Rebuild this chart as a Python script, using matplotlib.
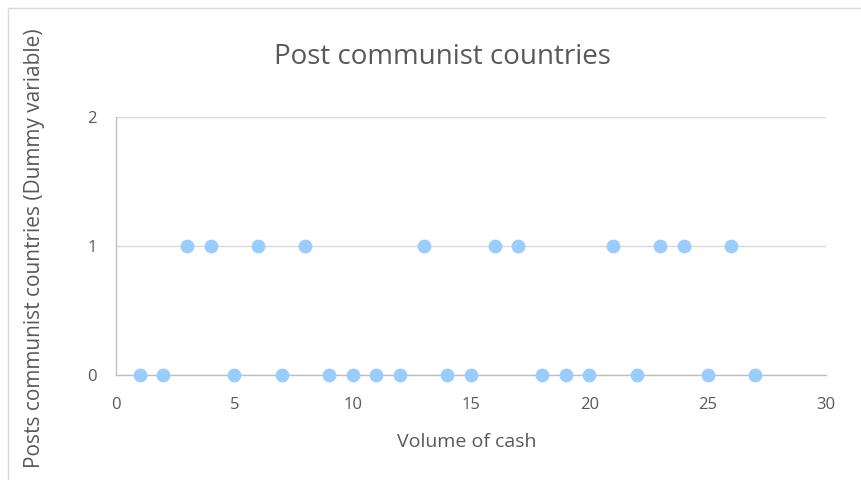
import matplotlib.pyplot as plt
from matplotlib.patches import Rectangle

# volume of cash vs. post-communist dummy
volume = [1, 2, 3, 4, 5, 6, 7, 8, 9, 10, 11, 12, 13, 14, 15, 16, 17, 18,
          19, 20, 21, 22, 23, 24, 25, 26, 27]
post_communist = [0, 0, 1, 1, 0, 1, 0, 1, 0, 0, 0, 0, 1, 0, 0, 1, 1, 0,
                  0, 0, 1, 0, 1, 1, 0, 1, 0]

x_ticks = [0, 5, 10, 15, 20, 25, 30]
y_ticks = [0, 1, 2]

text_col = '#595959'
plt.rcParams['font.family'] = ['Open Sans', 'DejaVu Sans']

W, H = 862, 480
fig = plt.figure(figsize=(W / 100, H / 100), dpi=100)
ax = fig.add_axes([116 / W, 1 - 375 / H, 710 / W, 258 / H])

# chart area frame (runs off the right and bottom edges)
fig.patches.append(Rectangle((8 / W, -0.1), 1.0, 1 - 8 / H + 0.1,
                             transform=fig.transFigure, fill=False,
                             edgecolor='#d9d9d9', linewidth=1.0))

ax.scatter(volume, post_communist, s=80, color='#99ccff', zorder=3,
           clip_on=False)

ax.set_xlim(0, 30)
ax.set_ylim(0, 2)
ax.set_xticks(x_ticks)
ax.set_yticks(y_ticks)
ax.grid(axis='y', color='#d9d9d9', linewidth=1.0)
ax.set_axisbelow(True)

for side in ['top', 'right']:
    ax.spines[side].set_visible(False)
for side in ['left', 'bottom']:
    ax.spines[side].set_color('#bfbfbf')
    ax.spines[side].set_linewidth(1.0)

ax.tick_params(axis='x', length=0, labelsize=12, labelcolor=text_col, pad=16)
ax.tick_params(axis='y', length=0, labelsize=12, labelcolor=text_col, pad=14)

fig.text(442 / W, 1 - 57 / H, 'Post communist countries', fontsize=20,
         color=text_col, ha='center', va='center')
fig.text(467 / W, 1 - 442 / H, 'Volume of cash', fontsize=14,
         color=text_col, ha='center', va='center')
fig.text(35 / W, 1 - 248 / H, 'Posts communist countries (Dummy variable)',
         fontsize=15, color=text_col, ha='center', va='center', rotation=90)

fig.savefig('out.png', dpi=100)
